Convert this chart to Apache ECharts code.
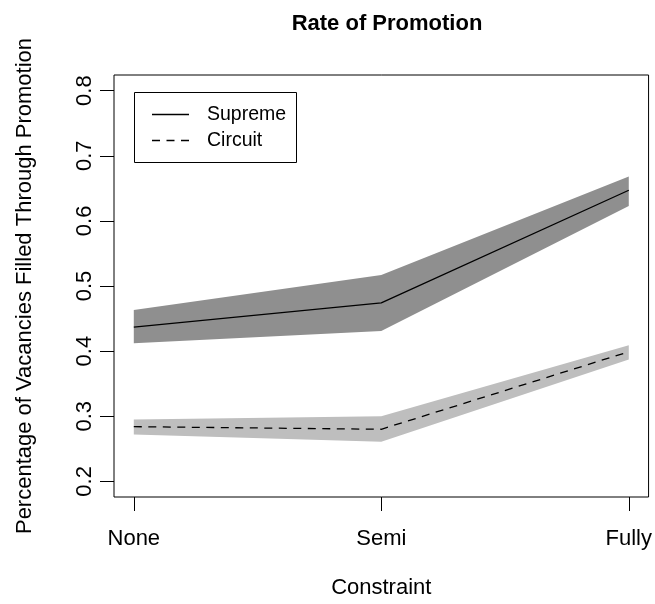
<!DOCTYPE html>
<html>
<head>
<meta charset="utf-8">
<script src="https://cdn.jsdelivr.net/npm/echarts@6/dist/echarts.min.js"></script>
<style>html,body{margin:0;padding:0;background:#fff;}#chart{width:655px;height:604px;}</style>
</head>
<body>
<div id="chart"></div>
<script>
const categories = ['None', 'Semi', 'Fully'];
const supremeMean = [0.437, 0.474, 0.647];
const supremeLow  = [0.412, 0.431, 0.623];
const supremeHigh = [0.463, 0.517, 0.668];
const circuitMean = [0.284, 0.280, 0.399];
const circuitLow  = [0.272, 0.261, 0.387];
const circuitHigh = [0.295, 0.300, 0.409];
const yTicks = [0.2, 0.3, 0.4, 0.5, 0.6, 0.7, 0.8];
const xTicks = categories.map((c, i) => i + 1);

const FONT = "'Liberation Sans', Arial, Helvetica, sans-serif";
const pts = arr => arr.map((v, i) => [i + 1, v]);

function bandSeries(name, low, high, color) {
  const data = low.map((v, i) => [i + 1, v, high[i]]);
  return {
    type: 'custom', name: name, silent: true, z: 1,
    encode: {x: 0, y: [1, 2]},
    data: data,
    renderItem: function (params, api) {
      if (params.dataIndex !== 0) return null;
      const upper = data.map(d => api.coord([d[0], d[2]]));
      const lower = data.map(d => api.coord([d[0], d[1]])).reverse();
      return {type: 'polygon', shape: {points: upper.concat(lower)}, style: {fill: color, stroke: null}};
    }
  };
}

const chart = echarts.init(document.getElementById('chart'), null, {renderer: 'canvas'});
chart.setOption({
  animation: false,
  backgroundColor: '#fff',
  textStyle: {fontFamily: FONT},
  title: {
    text: 'Rate of Promotion',
    left: 382, top: 8, textAlign: 'center',
    textStyle: {fontFamily: FONT, fontSize: 22, fontWeight: 'bold', color: '#000'}
  },
  grid: {left: 114, right: 4, top: 75, bottom: 103, show: true, borderColor: '#000', borderWidth: 1, backgroundColor: 'transparent', z: 5},
  xAxis: {
    type: 'value', min: 0.92, max: 3.08,
    name: 'Constraint', nameLocation: 'middle', nameGap: 80,
    nameTextStyle: {fontFamily: FONT, fontSize: 22, color: '#000'},
    axisLine: {show: false},
    splitLine: {show: false},
    axisTick: {show: true, inside: false, length: 14, lineStyle: {color: '#000', width: 1}, customValues: xTicks},
    axisLabel: {margin: 31, fontFamily: FONT, fontSize: 22, color: '#000', customValues: xTicks,
      formatter: v => categories[Math.round(v) - 1] || ''}
  },
  yAxis: {
    type: 'value', min: 0.176, max: 0.824,
    name: 'Percentage of Vacancies Filled Through Promotion', nameLocation: 'middle', nameGap: 78, nameRotate: 90,
    nameTextStyle: {fontFamily: FONT, fontSize: 22, color: '#000'},
    axisLine: {show: false},
    splitLine: {show: false},
    axisTick: {show: true, inside: false, length: 14, lineStyle: {color: '#000', width: 1}, customValues: yTicks},
    axisLabel: {margin: 18, rotate: 90, fontFamily: FONT, fontSize: 22, color: '#000', customValues: yTicks,
      formatter: v => v.toFixed(1)}
  },
  series: [
    bandSeries('supremeBand', supremeLow, supremeHigh, '#8f8f8f'),
    bandSeries('circuitBand', circuitLow, circuitHigh, '#bebebe'),
    {type: 'line', name: 'Supreme', data: pts(supremeMean), symbol: 'none', lineStyle: {color: '#000', width: 1.3, type: 'solid'}, z: 3},
    {type: 'line', name: 'Circuit', data: pts(circuitMean), symbol: 'none', lineStyle: {color: '#000', width: 1.3, type: [8, 6.5]}, z: 3}
  ],
  graphic: [
    {type: 'rect', shape: {x: 134.5, y: 92.5, width: 162, height: 70}, style: {fill: '#fff', stroke: '#000', lineWidth: 1}, z: 10},
    {type: 'line', shape: {x1: 152, y1: 114.5, x2: 189, y2: 114.5}, style: {stroke: '#000', lineWidth: 1.3}, z: 11},
    {type: 'line', shape: {x1: 152, y1: 140.5, x2: 189, y2: 140.5}, style: {stroke: '#000', lineWidth: 1.3, lineDash: [8, 6.5]}, z: 11},
    {type: 'text', style: {x: 207, y: 114.5, text: 'Supreme', fontFamily: FONT, fontSize: 19.5, fill: '#000', verticalAlign: 'middle'}, z: 11},
    {type: 'text', style: {x: 207, y: 140.5, text: 'Circuit', fontFamily: FONT, fontSize: 19.5, fill: '#000', verticalAlign: 'middle'}, z: 11}
  ]
});
</script>
</body>
</html>
